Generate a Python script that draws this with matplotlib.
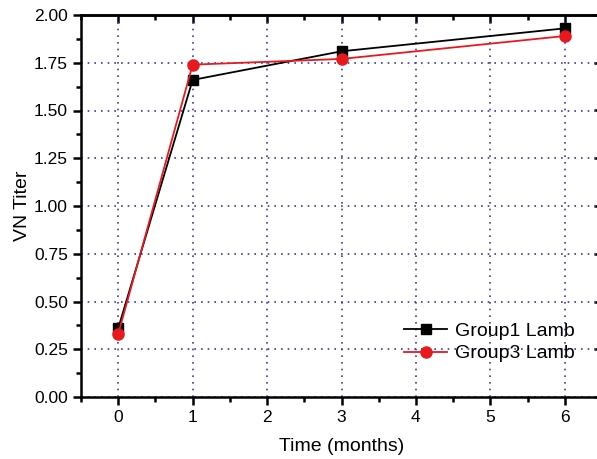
import numpy as np
import matplotlib
matplotlib.use('Agg')
from matplotlib import pyplot as plt
from matplotlib.ticker import MultipleLocator

plt.rcParams['font.family'] = ['Liberation Sans', 'DejaVu Sans']

months = [0, 1, 3, 6]
group1 = [0.36, 1.66, 1.81, 1.93]
group3 = [0.33, 1.74, 1.77, 1.89]

fig = plt.figure(figsize=(5.97, 4.59), dpi=100)
ax = fig.add_axes([81/597, 62/459, 521/597, 382/459])

ax.plot(months, group1, color='black', marker='s', markersize=7, lw=1.3, label='Group1 Lamb')
ax.plot(months, group3, color='#e8191e', marker='o', markersize=8, lw=1.3, label='Group3 Lamb')

ax.set_xlim(-0.5, 6.5)
ax.set_ylim(0, 2.0)
ax.xaxis.set_major_locator(MultipleLocator(1))
ax.xaxis.set_minor_locator(MultipleLocator(0.5))
ax.yaxis.set_major_locator(MultipleLocator(0.25))
ax.yaxis.set_minor_locator(MultipleLocator(0.125))
ax.yaxis.set_major_formatter(plt.FormatStrFormatter('%.2f'))

ax.grid(True, which='major', color='#3a3ab0', linestyle=(0, (1, 3)), lw=1.2)
ax.set_axisbelow(True)

for s in ax.spines.values():
    s.set_linewidth(1.8)

ax.tick_params(which='both', direction='out', width=1.8, labelsize=12.5, top=False, right=False)
ax.tick_params(which='major', length=6)
ax.tick_params(which='minor', length=3.5)

# inward mirror ticks on top and right, like Origin
sec_x = ax.secondary_xaxis('top')
sec_x.xaxis.set_major_locator(MultipleLocator(1))
sec_x.xaxis.set_minor_locator(MultipleLocator(0.5))
sec_x.tick_params(which='both', direction='in', width=1.8, labeltop=False)
sec_x.tick_params(which='major', length=6)
sec_x.tick_params(which='minor', length=3.5)
sec_x.spines['top'].set_linewidth(1.8)
sec_y = ax.secondary_yaxis('right')
sec_y.yaxis.set_major_locator(MultipleLocator(0.25))
sec_y.yaxis.set_minor_locator(MultipleLocator(0.125))
sec_y.tick_params(which='both', direction='in', width=1.8, labelright=False)
sec_y.tick_params(which='major', length=6)
sec_y.tick_params(which='minor', length=3.5)
sec_y.spines['right'].set_linewidth(1.8)

ax.set_xlabel('Time (months)', fontsize=14, labelpad=9)
ax.set_ylabel('VN Titer', fontsize=14, labelpad=2)

ax.legend(loc='lower right', bbox_to_anchor=(0.981, 0.045), frameon=False, fontsize=14,
          handlelength=2.2, handletextpad=0.4, labelspacing=0.25)

fig.savefig('out.png', dpi=100)
